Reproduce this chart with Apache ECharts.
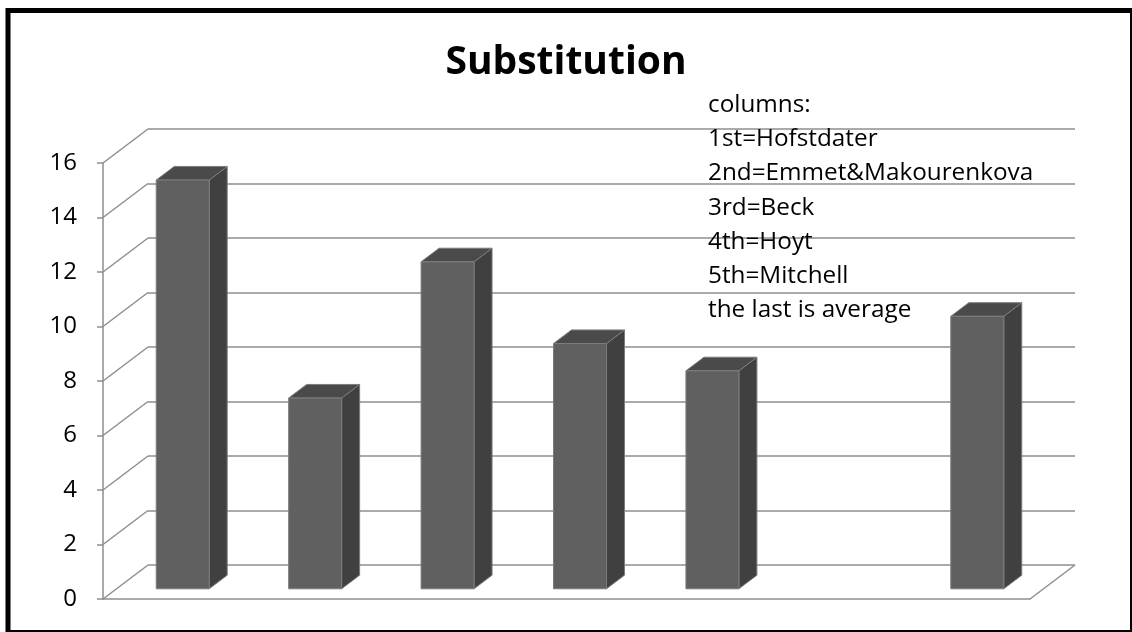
<!DOCTYPE html>
<html>
<head>
<meta charset="utf-8">
<title>Substitution</title>
<script src="https://cdn.jsdelivr.net/npm/echarts@6/dist/echarts.min.js"></script>
<style>
  html, body { margin: 0; padding: 0; background: #fff; }
  #chart { width: 1132px; height: 632px; }
</style>
</head>
<body>
<div id="chart"></div>
<script>
// Chart content
const titleText = 'Substitution';
const categories = ['Hofstdater', 'Emmet&Makourenkova', 'Beck', 'Hoyt', 'Mitchell', '', 'average'];
const values = [15, 7, 12, 9, 8, null, 10];
const yTicks = [0, 2, 4, 6, 8, 10, 12, 14, 16];
const noteLines = [
  'columns:',
  '1st=Hofstdater',
  '2nd=Emmet&Makourenkova',
  '3rd=Beck',
  '4th=Hoyt',
  '5th=Mitchell',
  'the last is average'
];

// Pseudo-3D depth of the plot box (pixel offset from front plane to back wall)
const DX = 45, DY = -34;
const FONT = '"Open Sans", "Noto Sans", sans-serif';
const GRID_COLOR = '#8e8e8e';

const yMin = yTicks[0];
const yMax = yTicks[yTicks.length - 1];
const yStep = yTicks[1] - yTicks[0];

const chart = echarts.init(document.getElementById('chart'), null, { renderer: 'canvas' });

const frontGrid = { left: 103, right: 102, top: 163, bottom: 33 };
const backGrid = {
  left: frontGrid.left + DX,
  right: frontGrid.right - DX,
  top: frontGrid.top + DY,
  bottom: frontGrid.bottom - DY
};

// Column boxes: front face, right side, top face
function renderBox(params, api) {
  const cat = api.value(0);
  const v = api.value(1);
  const base = api.coord([cat, 0]);
  const top = api.coord([cat, v]);
  const bw = api.size([1, 0])[0] * 0.4;
  const ox = DX * 0.3, oy = DY * 0.3;
  const dx = DX * 0.4, dy = DY * 0.4;
  const x0 = base[0] - bw / 2 + ox;
  const x1 = x0 + bw;
  const yT = top[1] + oy;
  const yB = base[1] + oy;
  const edge = { stroke: '#7c7c7c', lineWidth: 1 };
  return {
    type: 'group',
    children: [
      {
        type: 'polygon',
        shape: { points: [[x1, yT], [x1 + dx, yT + dy], [x1 + dx, yB + dy], [x1, yB]] },
        style: Object.assign({ fill: '#404040' }, edge)
      },
      {
        type: 'polygon',
        shape: { points: [[x0, yT], [x0 + dx, yT + dy], [x1 + dx, yT + dy], [x1, yT]] },
        style: Object.assign({ fill: '#4a4a4a' }, edge)
      },
      {
        type: 'rect',
        shape: { x: x0, y: yT, width: bw, height: yB - yT },
        style: Object.assign({ fill: '#606060' }, edge)
      }
    ]
  };
}

// Left side wall gridlines and the right edge of the floor
function renderWall(params, api) {
  const cs = params.coordSys;
  const v = api.value(0);
  const y = api.coord([0, v])[1];
  const children = [{
    type: 'line',
    shape: { x1: cs.x, y1: y, x2: cs.x + DX, y2: y + DY },
    style: { stroke: GRID_COLOR, lineWidth: 1.5 }
  }];
  if (v === yMin) {
    const xr = cs.x + cs.width;
    children.push({
      type: 'line',
      shape: { x1: xr, y1: y, x2: xr + DX, y2: y + DY },
      style: { stroke: GRID_COLOR, lineWidth: 1.5 }
    });
  }
  return { type: 'group', children: children };
}

const boxData = [];
values.forEach(function (v, i) {
  if (v !== null) boxData.push([i, v]);
});

const option = {
  backgroundColor: '#fff',
  animation: false,
  grid: [
    Object.assign({ containLabel: false }, frontGrid),
    Object.assign({ containLabel: false }, backGrid)
  ],
  xAxis: [
    {
      gridIndex: 0,
      type: 'category',
      data: categories,
      axisLine: { show: true, lineStyle: { color: GRID_COLOR, width: 1.5 } },
      axisTick: { show: false },
      axisLabel: { show: false },
      splitLine: { show: false }
    },
    {
      gridIndex: 1,
      type: 'category',
      data: categories,
      axisLine: { show: false },
      axisTick: { show: false },
      axisLabel: { show: false },
      splitLine: { show: false }
    }
  ],
  yAxis: [
    {
      gridIndex: 0,
      type: 'value',
      min: yMin,
      max: yMax,
      interval: yStep,
      axisLine: { show: true, lineStyle: { color: GRID_COLOR, width: 1.5 } },
      axisTick: { show: true, length: 6, lineStyle: { color: GRID_COLOR, width: 1.5 } },
      axisLabel: { color: '#000', fontSize: 24, fontFamily: FONT, margin: 26 },
      splitLine: { show: false }
    },
    {
      gridIndex: 1,
      type: 'value',
      min: yMin,
      max: yMax,
      interval: yStep,
      axisLine: { show: false },
      axisTick: { show: false },
      axisLabel: { show: false },
      splitLine: { show: true, lineStyle: { color: GRID_COLOR, width: 1.5 } }
    }
  ],
  series: [
    {
      type: 'custom',
      xAxisIndex: 0,
      yAxisIndex: 0,
      z: 1,
      silent: true,
      renderItem: renderWall,
      data: yTicks.map(function (t) { return [t]; }),
      encode: { y: 0 }
    },
    {
      type: 'custom',
      xAxisIndex: 0,
      yAxisIndex: 0,
      z: 3,
      renderItem: renderBox,
      data: boxData,
      encode: { x: 0, y: 1 }
    }
  ],
  graphic: [
    {
      type: 'text',
      left: 'center',
      top: 43,
      z: 10,
      style: {
        text: titleText,
        fill: '#000',
        font: 'bold 39px ' + FONT
      }
    },
    {
      type: 'text',
      x: 708,
      y: 88,
      z: 10,
      style: {
        text: noteLines.join('\n'),
        fill: '#000',
        font: '24.3px ' + FONT,
        lineHeight: 34.2
      }
    },
    {
      type: 'rect',
      z: 20,
      shape: { x: 8, y: 10.5, width: 1124.5, height: 622 },
      style: { fill: null, stroke: '#000', lineWidth: 5 }
    }
  ]
};

chart.setOption(option);
</script>
</body>
</html>
